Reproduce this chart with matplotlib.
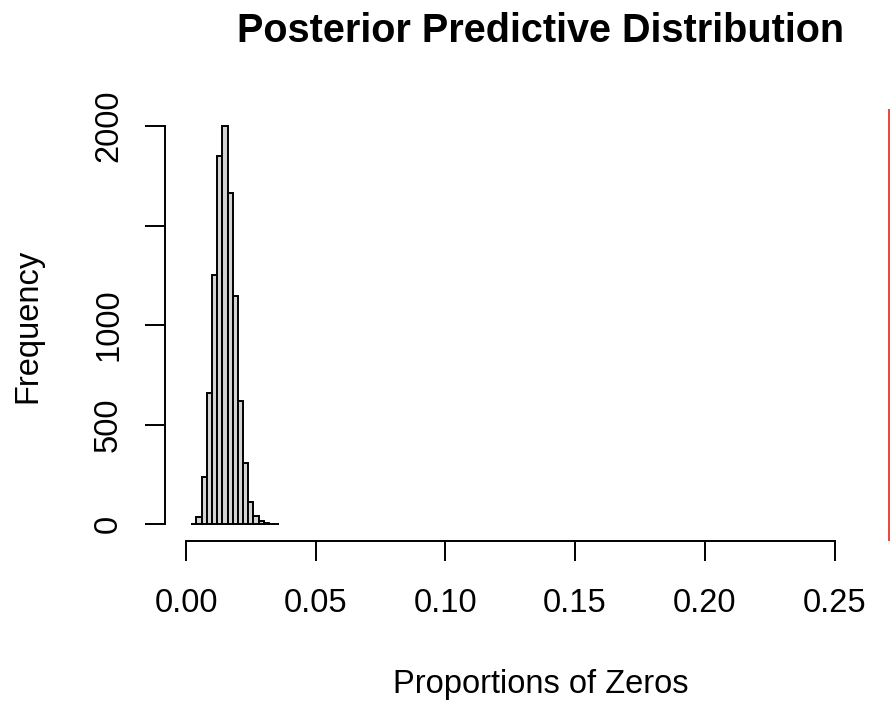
import numpy as np
import matplotlib
matplotlib.use("Agg")
import matplotlib.pyplot as plt

# histogram of posterior predictive proportions of zeros
bin_edges = [0.002, 0.004, 0.006, 0.008, 0.010, 0.012, 0.014, 0.016, 0.018,
             0.020, 0.022, 0.024, 0.026, 0.028, 0.030, 0.032, 0.034, 0.036]
counts = [2, 38, 238, 660, 1253, 1847, 2000, 1661, 1145,
          621, 310, 113, 43, 16, 5, 2, 1]
observed = 0.271

x_ticks = [0.00, 0.05, 0.10, 0.15, 0.20, 0.25]
x_labels = ["0.00", "0.05", "0.10", "0.15", "0.20", "0.25"]
y_ticks = [0, 500, 1000, 1500, 2000]
y_labels = ["0", "500", "1000", "", "2000"]

plt.rcParams['font.family'] = ['Liberation Sans', 'DejaVu Sans']

W, H = 890, 702
fig = plt.figure(figsize=(W / 100, H / 100), dpi=100)

# plot region in pixels (extends past the right edge, as in the source)
left, right, top, bottom = 165, 917, 109, 541
ax = fig.add_axes([left / W, 1 - bottom / H, (right - left) / W, (bottom - top) / H])

edges = np.array(bin_edges)
ax.bar(edges[:-1], counts, width=np.diff(edges), align='edge',
       color='#d3d3d3', edgecolor='black', linewidth=1.4)
ax.axvline(observed, color='#e8382c', linewidth=1.3)

ax.set_xlim(-0.0081, 0.2818)
ax.set_ylim(-83.8, 2085)

for s in ['top', 'right']:
    ax.spines[s].set_visible(False)
ax.spines['left'].set_bounds(0, 2000)
ax.spines['bottom'].set_bounds(0, 0.25)
for s in ['left', 'bottom']:
    ax.spines[s].set_linewidth(1.4)

ax.set_xticks(x_ticks)
ax.set_xticklabels(x_labels)
ax.set_yticks(y_ticks)
ax.set_yticklabels(y_labels, rotation=90, va='center')
ax.tick_params(axis='both', direction='out', length=14.5, width=1.4, labelsize=23.5)
ax.tick_params(axis='x', pad=19)
ax.tick_params(axis='y', pad=15)

fig.text(541 / W, 1 - 31 / H, "Posterior Predictive Distribution",
         ha='center', va='center', fontsize=28.5, fontweight='bold')
fig.text(541 / W, 1 - 684 / H, "Proportions of Zeros",
         ha='center', va='center', fontsize=23.5)
fig.text(28 / W, 1 - 326 / H, "Frequency", rotation=90,
         ha='center', va='center', fontsize=23.5)

fig.savefig("out.png", dpi=100)
